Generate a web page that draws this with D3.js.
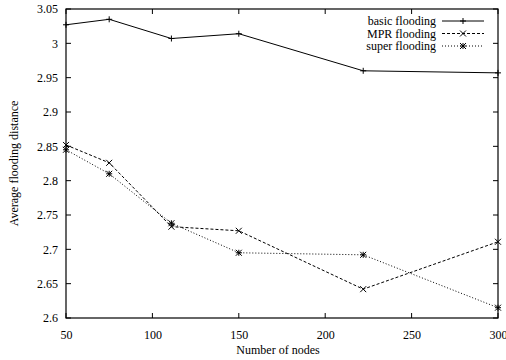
<!DOCTYPE html>
<meta charset="utf-8">
<style>
body { margin: 0; background: #fff; }
text { font-family: "Liberation Serif", "DejaVu Serif", serif; font-size: 12px; fill: #000; }
.line { fill: none; stroke: #000; stroke-width: 1px; }
.mark { stroke: #000; stroke-width: 1px; fill: none; }
</style>
<body>
<svg width="506" height="360"></svg>
<script src="https://cdn.jsdelivr.net/npm/d3@7"></script>
<script>

var nodes = [50, 75, 111, 150, 222, 300];
var basicFlooding = [3.027, 3.035, 3.007, 3.014, 2.960, 2.957];
var mprFlooding = [2.852, 2.826, 2.733, 2.727, 2.642, 2.711];
var superFlooding = [2.845, 2.810, 2.738, 2.695, 2.692, 2.615];
var xTicks = [50, 100, 150, 200, 250, 300];
var yTicks = [2.6, 2.65, 2.7, 2.75, 2.8, 2.85, 2.9, 2.95, 3, 3.05];

var series = [
  {name: "basic flooding", values: basicFlooding, dash: null, mark: "plus"},
  {name: "MPR flooding", values: mprFlooding, dash: "3,2", mark: "cross"},
  {name: "super flooding", values: superFlooding, dash: "1,2", mark: "star"}
];

var svg = d3.select("svg"),
    margin = {top: 9, right: 8, bottom: 42, left: 66},
    width = svg.attr("width") - margin.left - margin.right,
    height = svg.attr("height") - margin.top - margin.bottom,
    g = svg.append("g").attr("transform", "translate(" + margin.left + "," + margin.top + ")");

var x = d3.scaleLinear().domain([50, 300]).range([0, width]),
    y = d3.scaleLinear().domain([2.6, 3.05]).range([height, 0]);

var tick = 5;

function serifLabels(a) {
  a.attr("font-family", null).attr("font-size", null);
  a.select(".domain").remove();
  a.selectAll("text")
      .style("font-family", "'Liberation Serif', serif")
      .style("font-size", "12px");
}

// tick labels
g.append("g")
    .attr("transform", "translate(0," + height + ")")
    .call(d3.axisBottom(x).tickValues(xTicks).tickSize(0).tickPadding(12).tickFormat(d3.format("d")))
    .call(serifLabels);

g.append("g")
    .call(d3.axisLeft(y).tickValues(yTicks).tickSize(0).tickPadding(8).tickFormat(function(d) { return String(+d.toFixed(2)); }))
    .call(serifLabels);

// inward ticks, mirrored
var ticks = g.append("g").attr("stroke", "#000").attr("stroke-width", 1);
yTicks.forEach(function(v) {
  ticks.append("line").attr("x1", 0).attr("x2", tick).attr("y1", y(v)).attr("y2", y(v));
  ticks.append("line").attr("x1", width).attr("x2", width - tick).attr("y1", y(v)).attr("y2", y(v));
});
xTicks.forEach(function(v) {
  ticks.append("line").attr("x1", x(v)).attr("x2", x(v)).attr("y1", height).attr("y2", height - tick);
  ticks.append("line").attr("x1", x(v)).attr("x2", x(v)).attr("y1", 0).attr("y2", tick);
});

g.append("rect")
    .attr("width", width).attr("height", height)
    .attr("fill", "none").attr("stroke", "#000").attr("stroke-width", 1.2);

var line = d3.line()
    .x(function(d) { return x(d[0]); })
    .y(function(d) { return y(d[1]); });

function drawMark(sel, type, cx, cy) {
  var s = 3;
  var p = "";
  if (type === "plus" || type === "star")
    p += "M" + (cx - s) + "," + cy + "H" + (cx + s) + "M" + cx + "," + (cy - s) + "V" + (cy + s);
  if (type === "cross" || type === "star")
    p += "M" + (cx - s) + "," + (cy - s) + "L" + (cx + s) + "," + (cy + s) +
         "M" + (cx - s) + "," + (cy + s) + "L" + (cx + s) + "," + (cy - s);
  sel.append("path").attr("class", "mark").attr("d", p);
}

series.forEach(function(s) {
  var pts = nodes.map(function(n, i) { return [n, s.values[i]]; });
  g.append("path")
      .attr("class", "line")
      .attr("d", line(pts))
      .attr("stroke-dasharray", s.dash);
  var mg = g.append("g");
  pts.forEach(function(p) { drawMark(mg, s.mark, x(p[0]), y(p[1])); });
});

// legend
var legend = svg.append("g");
series.forEach(function(s, i) {
  var ly = 21 + i * 12.5;
  legend.append("text")
      .attr("x", 436).attr("y", ly).attr("dy", "0.35em")
      .attr("text-anchor", "end")
      .text(s.name);
  legend.append("line")
      .attr("x1", 442).attr("x2", 484).attr("y1", ly).attr("y2", ly)
      .attr("stroke", "#000").attr("stroke-width", 1)
      .attr("stroke-dasharray", s.dash);
  drawMark(legend, s.mark, 463, ly);
});

// axis titles
svg.append("text")
    .attr("x", margin.left + width / 2 - 4).attr("y", 354)
    .attr("text-anchor", "middle")
    .text("Number of nodes");

svg.append("text")
    .attr("transform", "translate(18," + (margin.top + height / 2) + ") rotate(-90)")
    .attr("text-anchor", "middle")
    .text("Average flooding distance");

</script>
</body>
